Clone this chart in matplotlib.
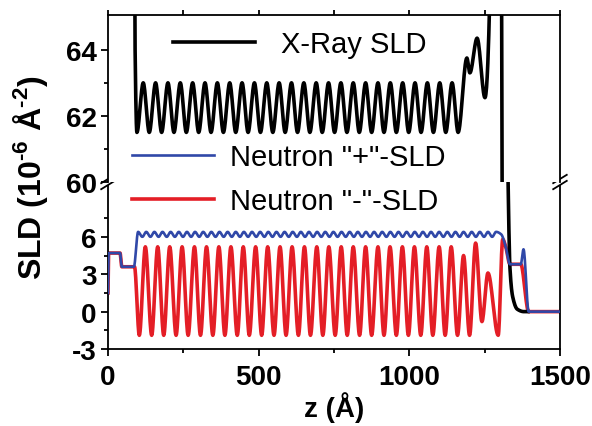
import numpy as np
import matplotlib.pyplot as plt
from matplotlib.ticker import FixedLocator, MultipleLocator

plt.rcParams['font.family'] = ['Liberation Sans', 'DejaVu Sans']
plt.rcParams['mathtext.fontset'] = 'custom'
plt.rcParams['mathtext.rm'] = 'Liberation Sans:bold'
plt.rcParams['mathtext.bf'] = 'Liberation Sans:bold'
plt.rcParams['axes.unicode_minus'] = False

# ---- X-ray SLD profile (10^-6 A^-2) ----
xray_head_z = [0, 84, 90]
xray_head_sld = [90, 90, 64]
xray_peak_z = [117, 158, 199, 240, 281, 322, 363, 404, 445, 486, 527, 568, 609,
               650, 691, 732, 773, 814, 855, 896, 937, 978, 1019, 1060, 1101, 1142]
xray_trough_z = [96, 137, 178, 219, 260, 301, 342, 383, 424, 465, 506, 547, 588,
                 629, 670, 711, 752, 793, 834, 875, 916, 957, 998, 1039, 1080, 1121, 1162]
xray_peak, xray_trough = 63.0, 61.5
xray_tail_z = [1191, 1201, 1225, 1251, 1268, 1276, 1298, 1308, 1328, 1334, 1343, 1358, 1380, 1394]
xray_tail_sld = [63.75, 63.3, 64.35, 62.55, 66, 90, 90, 60, 10, 3.5, 1.2, 0.2, 0, 0]

# ---- Neutron "+" SLD ----
plus_head_z = [0, 2, 40, 46, 86, 100]
plus_head_sld = [1.5, 4.7, 4.7, 3.6, 3.6, 6.4]
plus_peak_z = [127, 154, 181, 208, 235, 262, 289, 316, 343, 370, 397, 424, 451, 478,
               505, 532, 559, 586, 613, 640, 667, 694, 721, 748, 775, 802, 829, 856,
               883, 910, 937, 964, 991, 1018, 1045, 1072, 1099, 1126, 1153, 1180,
               1207, 1234, 1261, 1288]
plus_trough_z = [114, 141, 168, 195, 222, 249, 276, 303, 330, 357, 384, 411, 438, 465,
                 492, 519, 546, 573, 600, 627, 654, 681, 708, 735, 762, 789, 816, 843,
                 870, 897, 924, 951, 978, 1005, 1032, 1059, 1086, 1113, 1140, 1167,
                 1194, 1221, 1248, 1275]
plus_peak, plus_trough = 6.4, 6.0
plus_tail_z = [1305, 1320, 1334, 1370, 1379, 1396, 1500]
plus_tail_sld = [6.2, 5.2, 3.8, 3.8, 5.0, 0, 0]

# ---- Neutron "-" SLD ----
minus_head_z = [0, 2, 40, 46, 88]
minus_head_sld = [1.5, 4.7, 4.7, 3.6, 3.6]
minus_peak_z = [124, 165, 205, 246, 287, 327, 368, 408, 449, 490, 530, 571, 611,
                652, 693, 733, 774, 814, 855, 896, 936, 977, 1017, 1058, 1099, 1139]
minus_trough_z = [104, 145, 185, 226, 266, 307, 348, 388, 429, 469, 510, 551, 591,
                  632, 672, 713, 754, 794, 835, 875, 916, 957, 997, 1038, 1078, 1119,
                  1160, 1200]
minus_peak, minus_trough = 5.2, -1.9
minus_tail_z = [1180, 1220, 1241, 1261, 1295, 1310, 1320, 1334, 1370, 1396, 1500]
minus_tail_sld = [4.5, 5.5, -0.8, 3.1, -1.9, 5.8, 5.2, 3.8, 3.8, 0, 0]


def build(head_z, head_v, peak_z, peak_v, trough_z, trough_v, tail_z, tail_v):
    z = list(head_z) + list(peak_z) + list(trough_z) + list(tail_z)
    v = (list(head_v) + [peak_v] * len(peak_z) + [trough_v] * len(trough_z)
         + list(tail_v))
    order = np.argsort(z, kind='stable')
    return np.array(z, float)[order], np.array(v, float)[order]


def smooth(x, y, n=16):
    # monotone cubic (Fritsch-Carlson) curve through the points
    h = np.diff(x)
    d = np.diff(y) / h
    m = np.zeros_like(y)
    m[0], m[-1] = d[0], d[-1]
    for k in range(1, len(x) - 1):
        if d[k - 1] * d[k] > 0:
            w1 = 2 * h[k] + h[k - 1]
            w2 = h[k] + 2 * h[k - 1]
            m[k] = (w1 + w2) / (w1 / d[k - 1] + w2 / d[k])
    t = np.linspace(0, 1, n, endpoint=False)
    h00 = 2 * t**3 - 3 * t**2 + 1
    h10 = t**3 - 2 * t**2 + t
    h01 = -2 * t**3 + 3 * t**2
    h11 = t**3 - t**2
    xs, ys = [], []
    for k in range(len(x) - 1):
        xs.append(x[k] + h[k] * t)
        ys.append(h00 * y[k] + h10 * h[k] * m[k] + h01 * y[k + 1] + h11 * h[k] * m[k + 1])
    return np.concatenate(xs + [x[-1:]]), np.concatenate(ys + [y[-1:]])


xz, xs = smooth(*build(xray_head_z, xray_head_sld, xray_peak_z, xray_peak,
                       xray_trough_z, xray_trough, xray_tail_z, xray_tail_sld))
pz, ps = smooth(*build(plus_head_z, plus_head_sld, plus_peak_z, plus_peak,
                       plus_trough_z, plus_trough, plus_tail_z, plus_tail_sld))
mz, ms = smooth(*build(minus_head_z, minus_head_sld, minus_peak_z, minus_peak,
                       minus_trough_z, minus_trough, minus_tail_z, minus_tail_sld))

black, blue, red = '#000000', '#3048a8', '#e41e26'

fig = plt.figure(figsize=(5.92, 4.27), dpi=100)
ax_lo = fig.add_axes([0.1824, 0.1803, 0.7635, 0.3911])
ax_hi = fig.add_axes([0.1824, 0.5714, 0.7635, 0.3911], sharex=ax_lo)

for ax in (ax_hi, ax_lo):
    ax.plot(mz, ms, color=red, lw=2.6, zorder=2)
    ax.plot(xz, xs, color=black, lw=2.6, zorder=3)
    ax.plot(pz, ps, color=blue, lw=1.9, zorder=4)
    for s in ax.spines.values():
        s.set_linewidth(1.3)

l_m, l_x, l_p = ax_hi.lines[:3]

ax_lo.set_xlim(0, 1500)
ax_hi.set_ylim(60, 65.05)
ax_lo.set_ylim(-3, 10.4)

ax_hi.spines['bottom'].set_visible(False)
ax_lo.spines['top'].set_visible(False)

ax_lo.xaxis.set_major_locator(MultipleLocator(500))
ax_lo.xaxis.set_minor_locator(MultipleLocator(250))
ax_hi.yaxis.set_major_locator(FixedLocator([60, 62, 64]))
ax_hi.yaxis.set_minor_locator(FixedLocator([61, 63]))
ax_lo.yaxis.set_major_locator(FixedLocator([-3, 0, 3, 6]))
ax_lo.yaxis.set_minor_locator(FixedLocator([-1.5, 1.5, 4.5, 7.5]))

ax_lo.tick_params(axis='x', which='major', direction='out', length=5, width=1.3,
                  top=False, pad=6, labelsize=20)
ax_lo.tick_params(axis='x', which='minor', direction='out', length=3, width=1.3, top=False)
ax_hi.tick_params(axis='x', which='both', direction='out', length=3.5, width=1.3,
                  bottom=False, top=True, labelbottom=False)
for ax in (ax_hi, ax_lo):
    ax.tick_params(axis='y', which='major', direction='out', length=5, width=1.3,
                   right=False, pad=3, labelsize=20)
    ax.tick_params(axis='y', which='minor', direction='out', length=3, width=1.3,
                   right=False)
    for lab in ax.get_xticklabels() + ax.get_yticklabels():
        lab.set_fontweight('bold')

# axis break marks on both vertical spines
for xa in (0, 1):
    ax_lo.plot([xa - 0.015, xa + 0.015], [1 - 0.025, 1 + 0.025], color='white', lw=3.5,
               transform=ax_lo.transAxes, clip_on=False, zorder=6)
    for off in (-0.018, 0.018):
        ax_lo.plot([xa - 0.015, xa + 0.015], [1 - 0.025 + off, 1 + 0.025 + off],
                   color='black', lw=1.3, transform=ax_lo.transAxes, clip_on=False,
                   zorder=7)

fig.text(31 / 592, 1 - 178 / 427, r'SLD (10$^{\text{-}6}$ Å$^{\text{-}2}$)', rotation=90,
         ha='center', va='center', fontsize=23, fontweight='bold')
fig.text(334 / 592, 1 - 408 / 427, 'z (Å)', ha='center', va='center',
         fontsize=20, fontweight='bold')

leg_kw = dict(loc='center left', bbox_transform=fig.transFigure, frameon=False,
              borderpad=0, borderaxespad=0, handlelength=2.8, fontsize=21)
fig.legend([l_x], ['X-Ray SLD'], bbox_to_anchor=(173 / 592, 1 - 45 / 427),
           handletextpad=0.9, **leg_kw)
fig.legend([l_p], ['Neutron "+"-SLD'], bbox_to_anchor=(132 / 592, 1 - 158 / 427),
           handletextpad=0.55, **leg_kw)
fig.legend([l_m], ['Neutron "-"-SLD'], bbox_to_anchor=(132 / 592, 1 - 202 / 427),
           handletextpad=0.55, **leg_kw)

fig.savefig('out.png', dpi=100)
